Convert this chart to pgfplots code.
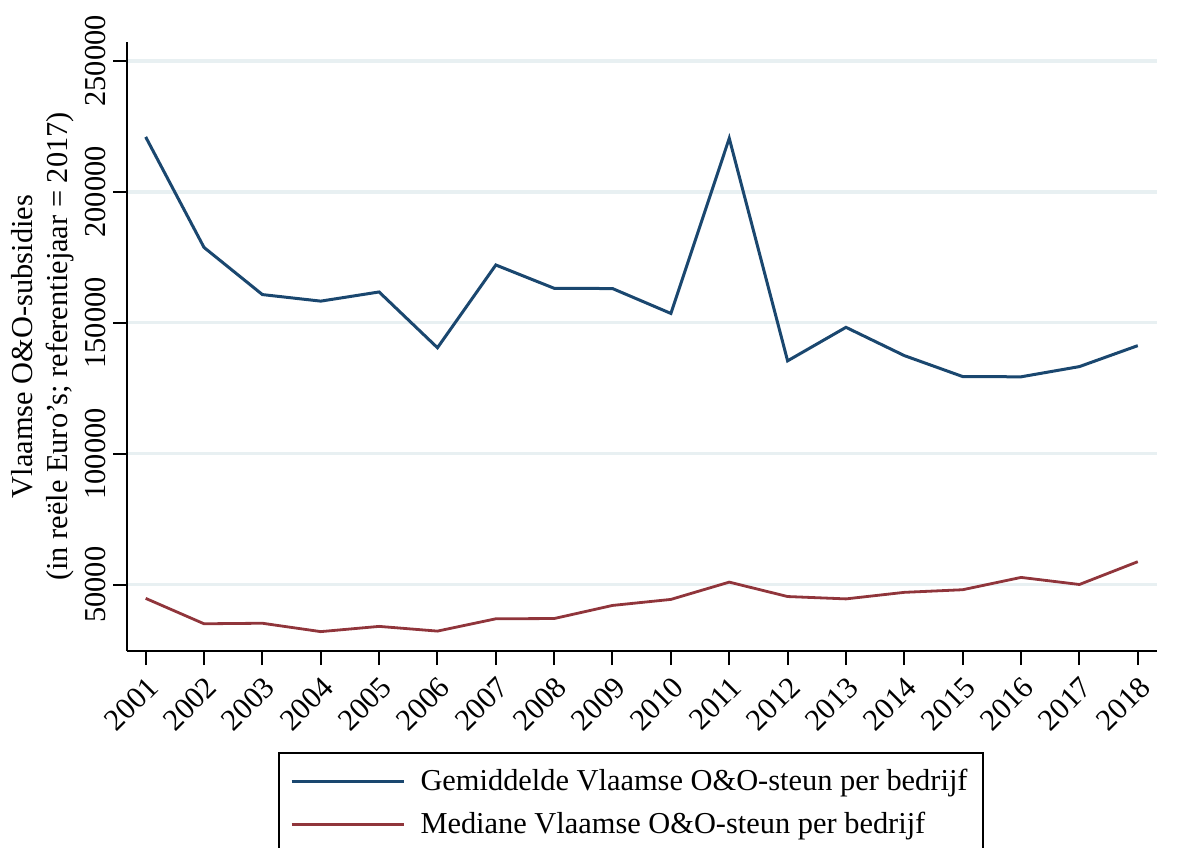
\documentclass[border=0pt]{standalone}
\usepackage{fontspec}
\setmainfont{Liberation Serif}
\usepackage{pgfplots}
\pgfplotsset{compat=1.18}
\definecolor{navyc}{RGB}{26,71,111}
\definecolor{maroonc}{RGB}{144,53,59}
\definecolor{gridc}{RGB}{232,240,242}
\newcommand{\fs}{\fontsize{15.2}{17.5}\selectfont}
\begin{document}
\begin{tikzpicture}
\begin{axis}[
  scale only axis, width=515pt, height=304.5pt,
  xmin=2000.68, xmax=2018.33, ymin=24700, ymax=257250,
  axis x line*=bottom, axis y line*=left,
  axis line style={line width=1pt, -},
  xtick={2001,2002,...,2018}, ytick={50000,100000,150000,200000,250000},
  tick align=outside, major tick length=7pt,
  tick style={line width=1pt, black},
  ymajorgrids, grid style={gridc, line width=1.6pt},
  scaled y ticks=false,
  /pgf/number format/fixed,
  /pgf/number format/assume math mode=true,
  /pgf/number format/1000 sep={},
  tick label style={font=\fs},
  yticklabel style={rotate=90, anchor=south},
  xticklabel style={rotate=45, anchor=north east},
  ylabel={Vlaamse O\&O-subsidies\\(in reële Euro's; referentiejaar = 2017)},
  ylabel style={align=center, font=\fs, at={(axis description cs:-0.082,0.5)}, anchor=center},
  legend style={at={(0.1466,-0.1658)}, anchor=north west, draw=black, line width=1pt,
    font=\fs, inner xsep=5.5pt, inner ysep=6pt, row sep=5.5pt, cells={anchor=west}},
  legend image code/.code={\draw[#1] (0pt,0pt) -- (56pt,0pt); \path[draw=none, fill=none] (62.5pt,0pt) circle (0pt);},
]
\addplot[navyc, line width=1.5pt] coordinates {
(2001,221000) (2002,178800) (2003,160800) (2004,158300) (2005,161800) (2006,140500)
(2007,172100) (2008,163200) (2009,163100) (2010,153600) (2011,220500) (2012,135500)
(2013,148300) (2014,137500) (2015,129500) (2016,129400) (2017,133300) (2018,141300)};
\addlegendentry{Gemiddelde Vlaamse O\&O-steun per bedrijf}
\addplot[maroonc, line width=1.4pt] coordinates {
(2001,44800) (2002,35100) (2003,35300) (2004,32100) (2005,34100) (2006,32300)
(2007,37000) (2008,37100) (2009,42100) (2010,44400) (2011,51000) (2012,45500)
(2013,44600) (2014,47100) (2015,48100) (2016,52800) (2017,50100) (2018,58800)};
\addlegendentry{Mediane Vlaamse O\&O-steun per bedrijf}
\end{axis}
\pgfresetboundingbox
\path[use as bounding box] (-63.5pt,-98pt) rectangle (525pt,325.5pt);
\end{tikzpicture}
\end{document}
